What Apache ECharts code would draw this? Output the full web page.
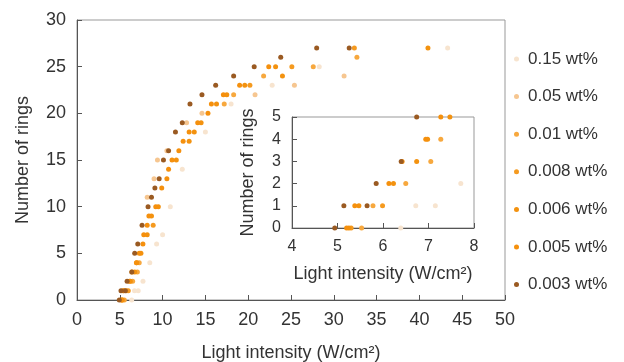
<!DOCTYPE html>
<html><head><meta charset="utf-8">
<script src="https://cdn.jsdelivr.net/npm/echarts@6/dist/echarts.min.js"></script>
<style>html,body{margin:0;padding:0;background:#fff}#c{width:624px;height:362px}</style>
</head><body><div id="c"></div>
<script>
const seriesNames = ['0.15 wt%','0.05 wt%','0.01 wt%','0.008 wt%','0.006 wt%','0.005 wt%','0.003 wt%'];
const seriesColors = ['#f7e4cf','#f6c690','#f7a83e','#f59a1f','#f3920f','#f5900d','#9a5a22'];
const xTicksMain = [0,5,10,15,20,25,30,35,40,45,50];
const yTicksMain = [0,5,10,15,20,25,30];
const xTicksInset = [4,5,6,7,8];
const yTicksInset = [0,1,2,3,4,5];

const d015 = [[6.39,0],[6.72,1],[7.15,1],[7.71,2],[8.5,4],[9.3,6],[10.0,7],[10.9,10],[12.3,14],[15.0,18],[18.0,21],[22.8,23],[28.3,25],[43.3,27]];
const d005 = [[8.2,11],[9.0,13],[9.4,15],[10.5,16],[12.8,19],[14.6,20],[20.8,22],[25.4,23],[31.2,24]];
const d001 = [[5.53,0],[5.78,1],[6.5,2],[7.05,3],[7.27,4],[17.2,21],[18.3,22],[21.8,24],[27.6,25],[32.7,26]];
const d0008 = [[5.3,0],[5.99,1],[8.9,8],[20.2,23],[25.1,25],[32.4,27]];
const d0006 = [[5.25,0],[5.47,1],[6.23,2],[6.74,3],[6.98,4],[7.47,5],[8.2,7],[8.7,9],[9.5,10],[11.6,15],[13.1,17],[13.7,18],[14.5,19],[16.3,21],[17.5,22],[19.6,23],[24.0,24],[23.2,25],[41.0,27]];
const d0005 = [[5.2,0],[5.38,1],[6.13,2],[6.42,3],[6.94,4],[7.27,5],[7.7,6],[7.8,7],[8.2,8],[8.4,9],[9.2,10],[9.9,12],[10.5,13],[10.7,14],[11.1,15],[11.9,16],[12.4,17],[13.1,18],[14.1,19],[15.3,20],[15.7,21],[17.1,22],[19.0,23],[22.4,25]];
const d0003 = [[4.94,0],[5.14,1],[5.65,1],[5.85,2],[6.4,3],[6.74,5],[7.1,6],[7.6,8],[8.3,10],[8.7,11],[9.1,12],[9.6,13],[10.1,15],[10.7,16],[11.5,18],[12.3,19],[13.2,21],[14.6,22],[16.2,23],[18.3,24],[20.7,25],[23.8,26],[28.0,27],[31.8,27]];
const allData = [d015,d005,d001,d0008,d0006,d0005,d0003];

const font = 'Liberation Sans, Arial, sans-serif';
const txt = '#333';
const chart = echarts.init(document.getElementById('c'));

function axisCommon(labelSize, margin){
  return {
    axisLine:{show:true,lineStyle:{color:'#555',width:1}},
    axisTick:{show:true,inside:true,length:5,lineStyle:{color:'#555'}},
    splitLine:{show:false},
    axisLabel:{color:txt,fontSize:labelSize,fontFamily:font,margin:margin},
    nameTextStyle:{color:txt,fontSize:18,fontFamily:font}
  };
}

const series = [];
allData.forEach((d,i)=>{
  series.push({type:'scatter',name:seriesNames[i],xAxisIndex:0,yAxisIndex:0,data:d,symbolSize:5,
    itemStyle:{color:seriesColors[i],opacity:1},z:2+i});
});
allData.forEach((d,i)=>{
  series.push({type:'scatter',name:seriesNames[i],xAxisIndex:1,yAxisIndex:1,data:d,symbolSize:5,clip:true,
    itemStyle:{color:seriesColors[i],opacity:1},z:20+i});
});

chart.setOption({
  animation:false,
  backgroundColor:'#fff',
  grid:[
    {left:77,right:119,top:20,bottom:62,show:true,borderColor:'#999',borderWidth:1,backgroundColor:'transparent',containLabel:false,outerBoundsMode:'none'},
    {left:292,right:150,top:117,bottom:134,show:true,borderColor:'#999',borderWidth:1,backgroundColor:'#fff',z:10,containLabel:false,outerBoundsMode:'none'}
  ],
  legend:{
    orient:'vertical',left:509,top:44,icon:'circle',itemWidth:5,itemHeight:5,itemGap:17.6,
    data:seriesNames,
    textStyle:{color:txt,fontSize:17,fontFamily:font,lineHeight:20,padding:[0,0,0,4]}
  },
  xAxis:[
    Object.assign(axisCommon(18,11),{type:'value',gridIndex:0,min:xTicksMain[0],max:xTicksMain[xTicksMain.length-1],interval:5,
      name:'Light intensity (W/cm²)',nameLocation:'middle',nameGap:44}),
    Object.assign(axisCommon(16,11),{type:'value',gridIndex:1,min:xTicksInset[0],max:xTicksInset[xTicksInset.length-1],interval:1,z:10,
      name:'Light intensity (W/cm²)',nameLocation:'middle',nameGap:37})
  ],
  yAxis:[
    Object.assign(axisCommon(18,11),{type:'value',gridIndex:0,min:yTicksMain[0],max:yTicksMain[yTicksMain.length-1],interval:5,
      name:'Number of rings',nameLocation:'middle',nameGap:45}),
    Object.assign(axisCommon(16,11),{type:'value',gridIndex:1,min:yTicksInset[0],max:yTicksInset[yTicksInset.length-1],interval:1,z:10,
      name:'Number of rings',nameLocation:'middle',nameGap:35})
  ],
  series:series
});
</script></body></html>
